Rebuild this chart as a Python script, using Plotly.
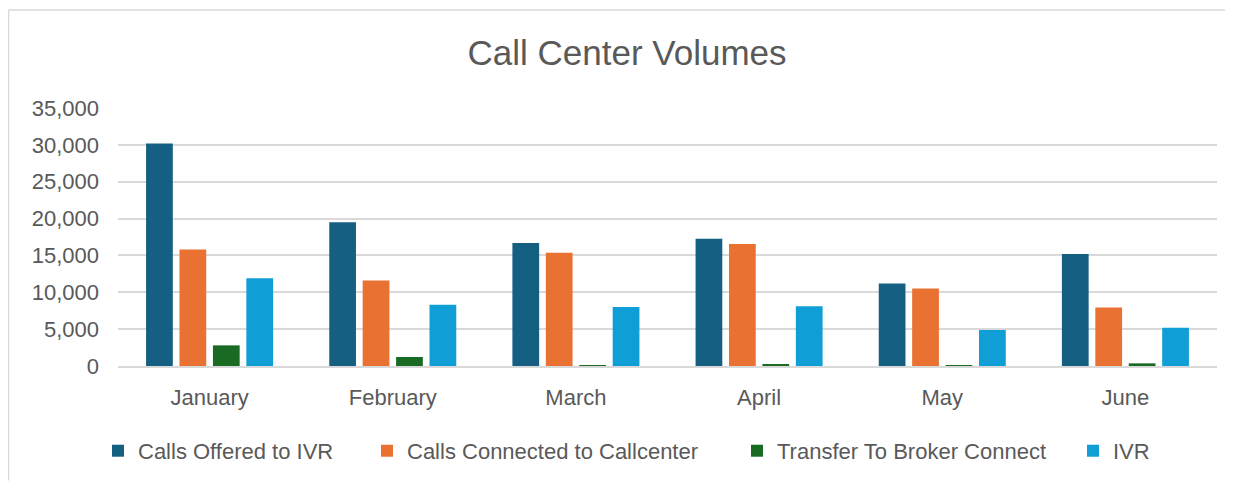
import plotly.graph_objects as go

months = ["January", "February", "March", "April", "May", "June"]
offered = [30200, 19500, 16700, 17250, 11200, 15200]
connected = [15800, 11600, 15350, 16550, 10500, 7950]
transfer = [2800, 1220, 50, 150, 30, 360]
ivr = [11900, 8300, 8000, 8100, 4900, 5200]

series_names = ["Calls Offered to IVR", "Calls Connected to Callcenter",
                "Transfer To Broker Connect", "IVR"]
series_values = [offered, connected, transfer, ivr]
colors = ["#156082", "#E97132", "#196B24", "#0F9ED5"]

FONT = "Liberation Sans"
TXT = "#595959"

W, H = 1225, 474
L, R, T, B = 110, 16, 100, 115
PW = W - L - R
PH = H - T - B

legend_ids = ["legend", "legend2", "legend3", "legend4"]
legend_left_px = [90, 359, 729, 1065]

fig = go.Figure()
for name, vals, col, lid in zip(series_names, series_values, colors, legend_ids):
    fig.add_trace(go.Bar(x=months, y=vals, name=name, marker_color=col,
                         marker_line_width=0, legend=lid))

legend_common = dict(orientation="h", xanchor="left", y=-0.324,
                     yanchor="middle", bgcolor="rgba(0,0,0,0)",
                     font=dict(family=FONT, size=22, color=TXT))
layout_legends = {}
for lid, px in zip(legend_ids, legend_left_px):
    layout_legends[lid] = dict(x=(px - L) / PW, **legend_common)

fig.update_layout(
    width=W, height=H,
    margin=dict(l=L, r=R, t=T, b=B),
    paper_bgcolor="white", plot_bgcolor="white",
    barmode="group", bargap=0.27, bargroupgap=0.2,
    font=dict(family=FONT, color=TXT, size=22),
    title=dict(text="Call Center Volumes", x=(627 - 8) / W, xanchor="center",
               y=1 - 45 / H, yanchor="middle", yref="container",
               font=dict(family=FONT, size=35, color=TXT)),
    showlegend=True,
    **layout_legends,
)
fig.update_yaxes(range=[0, 35000], dtick=5000, tickformat=",d",
                 showgrid=True, gridcolor="#D9D9D9", gridwidth=1.5,
                 zeroline=False, showline=False, ticklabelstandoff=18,
                 tickfont=dict(family=FONT, size=22, color=TXT))
fig.update_xaxes(showline=True, linecolor="#D9D9D9", linewidth=1.5,
                 ticks="", ticklabelstandoff=11,
                 tickfont=dict(family=FONT, size=22, color=TXT))

# chart frame (top and left edges; right/bottom fall outside the picture)
frame_line = dict(color="#D9D9D9", width=1.5)
fig.add_shape(type="line", xref="paper", yref="paper",
              x0=(0.5 - L) / PW, x1=(W - L) / PW,
              y0=(H - B - 1.5) / PH, y1=(H - B - 1.5) / PH,
              line=frame_line, layer="below")
fig.add_shape(type="line", xref="paper", yref="paper",
              x0=(0.5 - L) / PW, x1=(0.5 - L) / PW,
              y0=(H - B - H) / PH, y1=(H - B - 1.5) / PH,
              line=frame_line, layer="below")

fig.write_html("out.html",
               post_script="document.body.style.overflow='hidden';")
